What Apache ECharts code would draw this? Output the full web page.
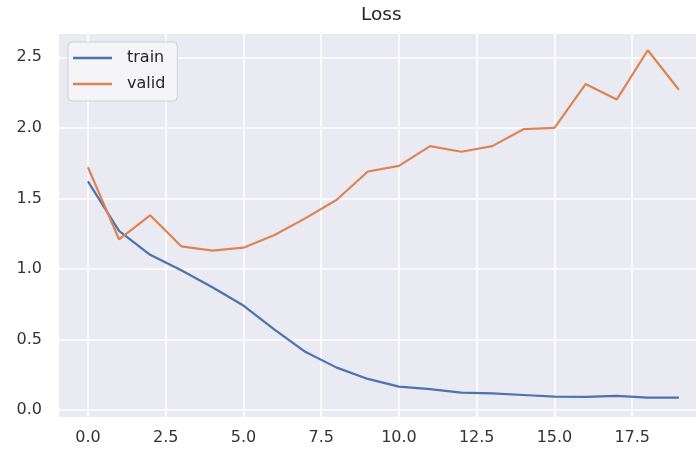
<!DOCTYPE html>
<html>
<head>
<meta charset="utf-8">
<script src="https://cdn.jsdelivr.net/npm/echarts@6/dist/echarts.min.js"></script>
<style>
html,body{margin:0;padding:0;background:#fff;}
#c{width:696px;height:455px;}
</style>
</head>
<body>
<div id="c"></div>
<script>
const epochs = [0,1,2,3,4,5,6,7,8,9,10,11,12,13,14,15,16,17,18,19];
const trainLoss = [1.62,1.27,1.10,0.99,0.87,0.74,0.57,0.41,0.30,0.22,0.165,0.147,0.123,0.118,0.106,0.094,0.092,0.10,0.087,0.087];
const validLoss = [1.72,1.21,1.38,1.16,1.13,1.15,1.24,1.36,1.49,1.69,1.73,1.87,1.83,1.87,1.99,2.0,2.31,2.20,2.55,2.27];
const xTicks = [0,2.5,5,7.5,10,12.5,15,17.5];
const yTicks = [0,0.5,1.0,1.5,2.0,2.5];

const chart = echarts.init(document.getElementById('c'), null, {renderer:'canvas'});
const font = 'DejaVu Sans';
chart.setOption({
  backgroundColor:'#ffffff',
  animation:false,
  title:{text:'Loss', left:361, top:6, padding:0,
    textStyle:{fontFamily:font, fontSize:18.5, fontWeight:'normal', color:'#262626'}},
  legend:{
    orient:'vertical', left:68, top:42,
    data:['train','valid'],
    icon:'rect', itemWidth:39, itemHeight:2.5, itemGap:10,
    padding:[8,12,9,5],
    backgroundColor:'rgba(245,245,249,0.9)', borderColor:'#cfcfd4', borderWidth:1, borderRadius:4,
    textStyle:{fontFamily:font, fontSize:16, color:'#262626', padding:[0,0,0,10]}
  },
  grid:{left:59, right:0, top:34, bottom:38, show:true, backgroundColor:'#eaeaf2', borderWidth:0},
  xAxis:{
    type:'value', min:-0.93, max:19.55,
    axisLine:{show:false}, axisTick:{show:false, customValues:xTicks},
    axisLabel:{customValues:xTicks, formatter:v=>v.toFixed(1), fontFamily:font, fontSize:16, color:'#333', margin:13},
    splitLine:{show:true, lineStyle:{color:'#ffffff', width:1.6}}
  },
  yAxis:{
    type:'value', min:-0.05, max:2.665,
    axisLine:{show:false}, axisTick:{show:false, customValues:yTicks},
    axisLabel:{customValues:yTicks, formatter:v=>v.toFixed(1), fontFamily:font, fontSize:16, color:'#333', margin:17},
    splitLine:{show:true, lineStyle:{color:'#ffffff', width:1.6}}
  },
  series:[
    {name:'train', type:'line', symbol:'none', data:epochs.map((e,i)=>[e,trainLoss[i]]),
     lineStyle:{color:'#4c72b0', width:2.2}, itemStyle:{color:'#4c72b0'}},
    {name:'valid', type:'line', symbol:'none', data:epochs.map((e,i)=>[e,validLoss[i]]),
     lineStyle:{color:'#dd8452', width:2.2}, itemStyle:{color:'#dd8452'}}
  ]
});
</script>
</body>
</html>
